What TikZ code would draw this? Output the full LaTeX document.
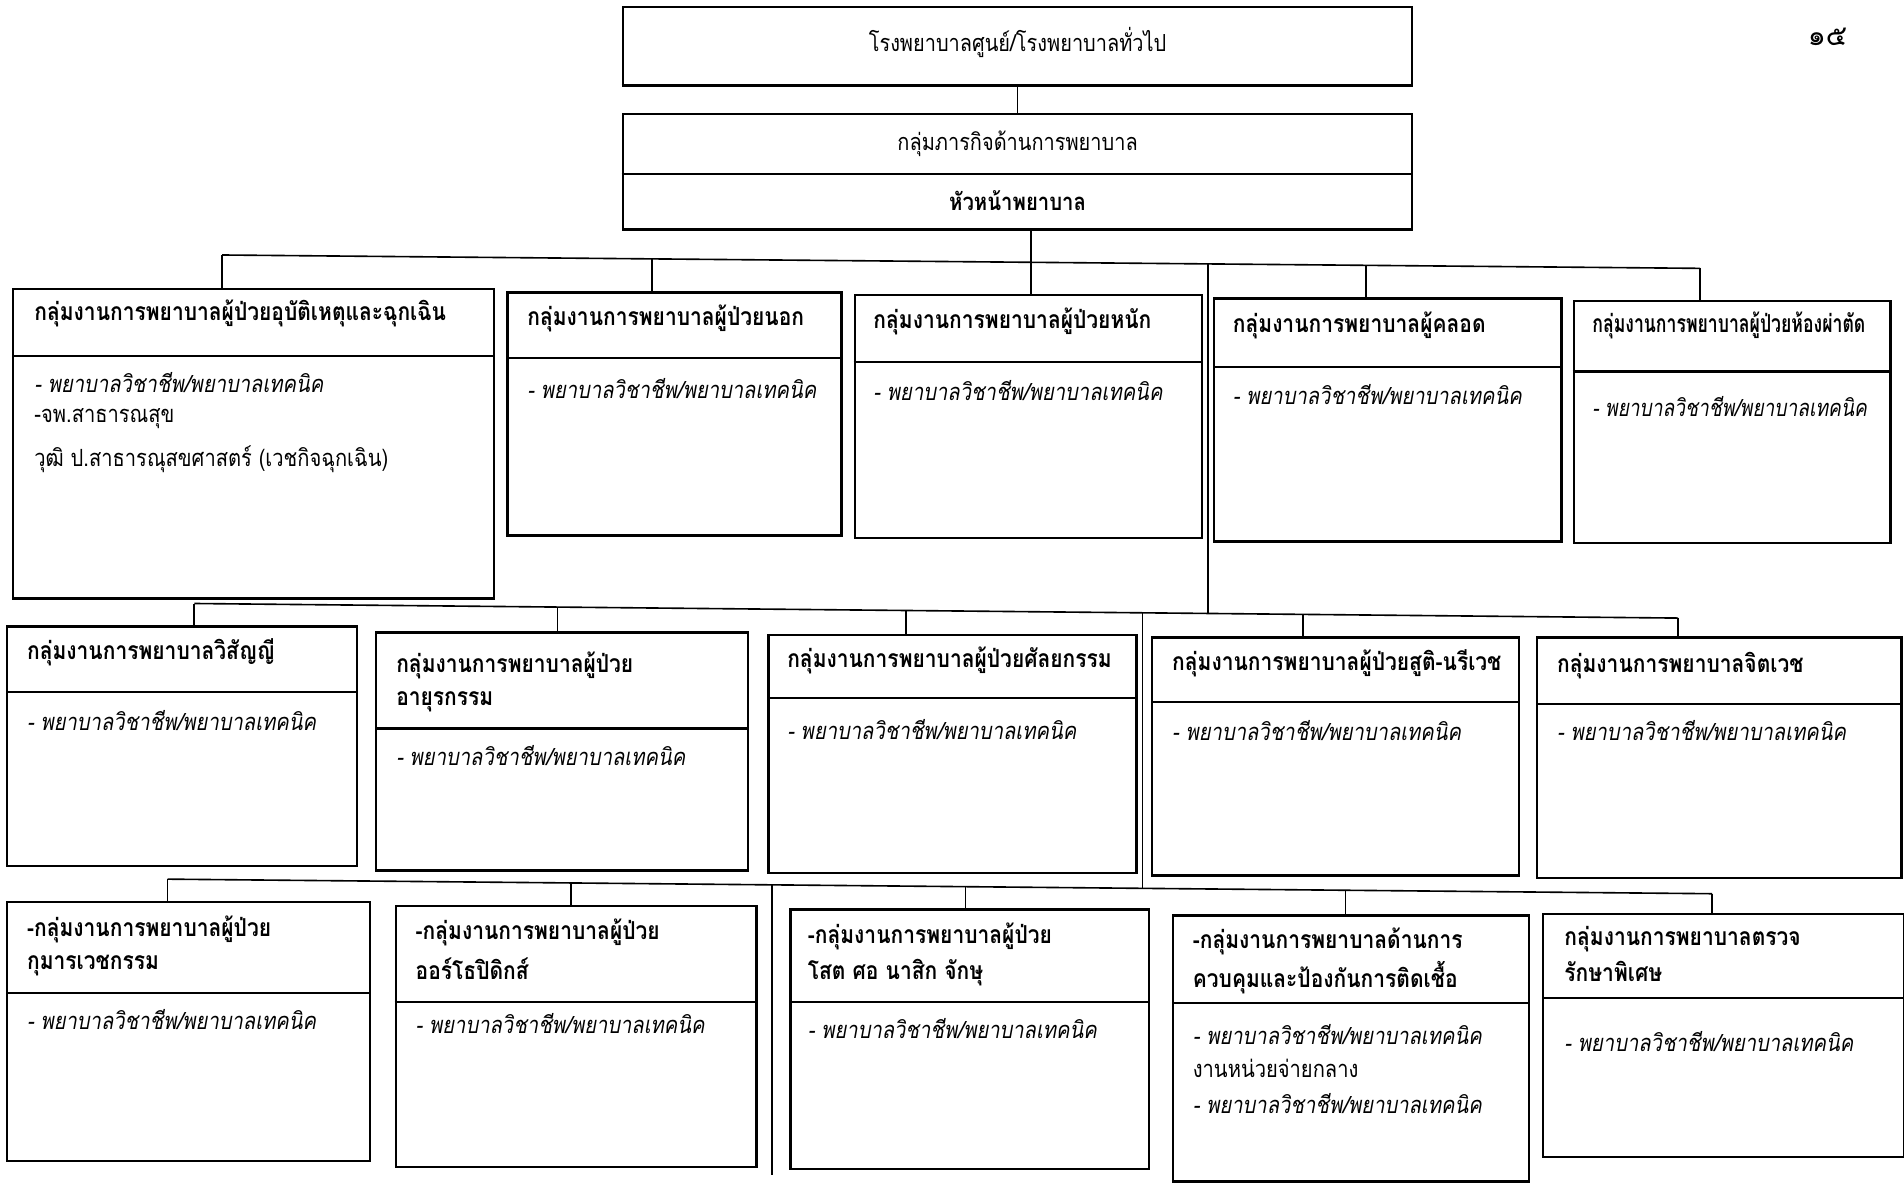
\documentclass[tikz,border=0pt]{standalone}
\usepackage{fontspec}
\setmainfont[Script=Thai,FakeStretch=0.85]{Loma}
\newfontfamily\plainthai[Script=Thai]{Loma}
\begin{document}
\begin{tikzpicture}[x=0.6pt,y=-0.6pt,
  box/.style={draw,line width=1.1pt,rectangle,inner sep=0pt},
  link/.style={line width=0.8pt},
  ttl/.style={anchor=west,inner sep=0pt,font=\fontsize{12.2}{14}\selectfont\bfseries},
  bdy/.style={anchor=west,inner sep=0pt,font=\fontsize{11.7}{14}\selectfont\itshape},
  pln/.style={anchor=west,inner sep=0pt,font=\fontsize{11.7}{14}\selectfont},
  ctr/.style={anchor=center,inner sep=0pt,font=\fontsize{11.6}{14}\selectfont}]
\newcommand\obox[6]{%
  \node[box,anchor=north west,minimum width={(#4-#2)*0.6pt},minimum height={(#5-#3)*0.6pt}] (#1) at (#2,#3) {};
  \draw[line width=1.1pt] (#1.west |- 0,#6) -- (#1.east |- 0,#6);}
\useasboundingbox (0,0) rectangle (1568,978);
% top
\obox{top}{512}{5}{1162}{70}{70}
\node[ctr] (toptxt) at (838,35) {โรงพยาบาลศูนย์/โรงพยาบาลทั่วไป};
\node[inner sep=0pt,font=\plainthai\fontsize{14}{16}\selectfont] (page) at (1505,30) {๑๕};
\obox{mid}{512}{93}{1162}{188}{143}
\node[ctr] (midtxt) at (838,118) {กลุ่มภารกิจด้านการพยาบาล};
\node[ctr,font=\fontsize{11.8}{14}\selectfont\bfseries] (headtxt) at (838,165) {หัวหน้าพยาบาล};
% row 1
\obox{b1}{10}{237}{406}{492}{293}
\obox{b2}{417}{240}{692}{440}{295}
\obox{b3}{703}{242}{989}{442}{298}
\obox{b4}{999}{245}{1285}{445}{302}
\obox{b5}{1295}{247}{1556}{446}{306}
% row 2
\obox{c1}{5}{515}{293}{712}{570}
\obox{c2}{309}{520}{615}{716}{600}
\obox{c3}{632}{522}{935}{718}{575}
\obox{c4}{948}{524}{1250}{720}{578}
\obox{c5}{1265}{524}{1565}{722}{580}
% row 3
\obox{d1}{5}{742}{304}{955}{818}
\obox{d2}{325}{745}{622}{960}{825}
\obox{d3}{650}{748}{945}{962}{825}
\obox{d4}{965}{753}{1258}{972}{826}
\obox{d5}{1270}{752}{1567}{952}{822}
% connectors level 0
\draw[link] (top.south -| 838,0) -- (mid.north -| 838,0);
% bus 1
\coordinate (p1L) at (183,210); \coordinate (p1R) at (1400,221);
\coordinate (p1a) at (537,213.2); \coordinate (p1m) at (849,216);
\coordinate (p1t) at (995,217.3); \coordinate (p1b) at (1125,218.5);
\draw[link] (mid.south -| p1m) -- (p1m);
\draw[link] (p1L) -- (p1R);
\draw[link] (p1L) -- (p1L |- b1.north);
\draw[link] (p1a) -- (p1a |- b2.north);
\draw[link] (p1m) -- (p1m |- b3.north);
\draw[link] (p1b) -- (p1b |- b4.north);
\draw[link] (p1R) -- (p1R |- b5.north);
% bus 2
\coordinate (p2L) at (160,497); \coordinate (p2R) at (1382,509);
\coordinate (p2a) at (459,499.9); \coordinate (p2b) at (746,502.8);
\coordinate (p2s) at (941,504.7); \coordinate (p2t) at (995,505.2);
\coordinate (p2c) at (1073,506);
\draw[link] (p1t) -- (p2t);
\draw[link] (p2L) -- (p2R);
\draw[link] (p2L) -- (p2L |- c1.north);
\draw[link] (p2a) -- (p2a |- c2.north);
\draw[link] (p2b) -- (p2b |- c3.north);
\draw[link] (p2c) -- (p2c |- c4.north);
\draw[link] (p2R) -- (p2R |- c5.north);
% bus 3
\coordinate (p3L) at (138,724); \coordinate (p3R) at (1410,736);
\coordinate (p3a) at (470,727.1); \coordinate (p3x) at (636,728.7);
\coordinate (p3b) at (795,730.2); \coordinate (p3s) at (941,731.6);
\coordinate (p3c) at (1108,733.1); \coordinate (p3e) at (636,968);
\draw[link] (p2s) -- (p3s);
\draw[link] (p3L) -- (p3R);
\draw[link] (p3L) -- (p3L |- d1.north);
\draw[link] (p3a) -- (p3a |- d2.north);
\draw[link] (p3b) -- (p3b |- d3.north);
\draw[link] (p3c) -- (p3c |- d4.north);
\draw[link] (p3R) -- (p3R |- d5.north);
\draw[link] (p3x) -- (p3e);
% texts row 1
\node[ttl] (b1t) at (28,258) {กลุ่มงานการพยาบาลผู้ป่วยอุบัติเหตุและฉุกเฉิน};
\node[bdy] (b1x) at (28,315) {- พยาบาลวิชาชีพ/พยาบาลเทคนิค};
\node[pln] (b1y) at (28,345) {-จพ.สาธารณสุข};
\node[pln] (b1z) at (28,378) {วุฒิ ป.สาธารณุสขศาสตร์ (เวชกิจฉุกเฉิน)};
\node[ttl] (b2t) at (434,262) {กลุ่มงานการพยาบาลผู้ป่วยนอก};
\node[bdy] (b2x) at (434,320) {- พยาบาลวิชาชีพ/พยาบาลเทคนิค};
\node[ttl] (b3t) at (719,265) {กลุ่มงานการพยาบาลผู้ป่วยหนัก};
\node[bdy] (b3x) at (719,322) {- พยาบาลวิชาชีพ/พยาบาลเทคนิค};
\node[ttl] (b4t) at (1015,268) {กลุ่มงานการพยาบาลผู้คลอด};
\node[bdy] (b4x) at (1015,325) {- พยาบาลวิชาชีพ/พยาบาลเทคนิค};
\node[ttl] (b5t) at (1311,268) {\scalebox{0.84}[1]{กลุ่มงานการพยาบาลผู้ป่วยห้องผ่าตัด}};
\node[bdy] (b5x) at (1311,335) {\scalebox{0.95}[1]{- พยาบาลวิชาชีพ/พยาบาลเทคนิค}};
% texts row 2
\node[ttl] (c1t) at (22,537) {กลุ่มงานการพยาบาลวิสัญญี};
\node[bdy] (c1x) at (22,593) {- พยาบาลวิชาชีพ/พยาบาลเทคนิค};
\node[ttl] (c2t) at (326,548) {กลุ่มงานการพยาบาลผู้ป่วย};
\node[ttl] (c2u) at (326,578) {อายุรกรรม};
\node[bdy] (c2x) at (326,622) {- พยาบาลวิชาชีพ/พยาบาลเทคนิค};
\node[ttl] (c3t) at (648,544) {กลุ่มงานการพยาบาลผู้ป่วยศัลยกรรม};
\node[bdy] (c3x) at (648,601) {- พยาบาลวิชาชีพ/พยาบาลเทคนิค};
\node[ttl] (c4t) at (965,546) {กลุ่มงานการพยาบาลผู้ป่วยสูติ-นรีเวช};
\node[bdy] (c4x) at (965,602) {- พยาบาลวิชาชีพ/พยาบาลเทคนิค};
\node[ttl] (c5t) at (1282,548) {กลุ่มงานการพยาบาลจิตเวช};
\node[bdy] (c5x) at (1282,602) {- พยาบาลวิชาชีพ/พยาบาลเทคนิค};
% texts row 3
\node[ttl] (d1t) at (22,765) {-กลุ่มงานการพยาบาลผู้ป่วย};
\node[ttl] (d1u) at (22,795) {กุมารเวชกรรม};
\node[bdy] (d1x) at (22,840) {- พยาบาลวิชาชีพ/พยาบาลเทคนิค};
\node[ttl] (d2t) at (342,768) {-กลุ่มงานการพยาบาลผู้ป่วย};
\node[ttl] (d2u) at (342,798) {ออร์โธปิดิกส์};
\node[bdy] (d2x) at (342,843) {- พยาบาลวิชาชีพ/พยาบาลเทคนิค};
\node[ttl] (d3t) at (665,771) {-กลุ่มงานการพยาบาลผู้ป่วย};
\node[ttl] (d3u) at (665,801) {โสต ศอ นาสิก จักษุ};
\node[bdy] (d3x) at (665,847) {- พยาบาลวิชาชีพ/พยาบาลเทคนิค};
\node[ttl] (d4t) at (982,775) {-กลุ่มงานการพยาบาลด้านการ};
\node[ttl] (d4u) at (982,805) {ควบคุมและป้องกันการติดเชื้อ};
\node[bdy] (d4x) at (982,852) {- พยาบาลวิชาชีพ/พยาบาลเทคนิค};
\node[pln] (d4y) at (982,880) {งานหน่วยจ่ายกลาง};
\node[bdy] (d4z) at (982,909) {- พยาบาลวิชาชีพ/พยาบาลเทคนิค};
\node[ttl] (d5t) at (1288,773) {กลุ่มงานการพยาบาลตรวจ};
\node[ttl] (d5u) at (1288,800) {รักษาพิเศษ};
\node[bdy] (d5x) at (1288,858) {- พยาบาลวิชาชีพ/พยาบาลเทคนิค};
\end{tikzpicture}
\end{document}
